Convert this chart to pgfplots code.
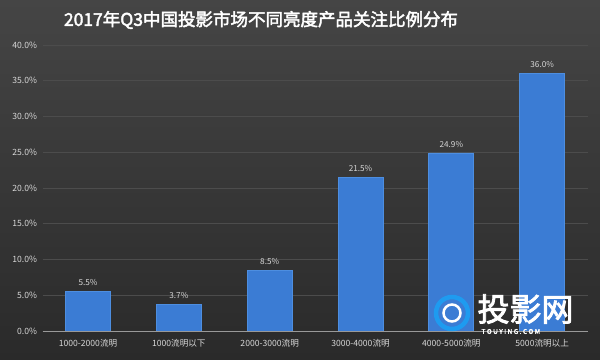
\documentclass[border=0pt]{standalone}
\usepackage{pgfplots}
\pgfplotsset{compat=1.18}
\usepackage{fontspec}
\setmainfont{Noto Sans CJK SC}
\newfontfamily\cjkbold{Noto Sans CJK SC}[FakeBold=2.5]
\definecolor{bgtop}{HTML}{454545}
\definecolor{bgbot}{HTML}{2A2A2A}
\definecolor{barblue}{HTML}{3B7CD4}
\definecolor{baredge}{HTML}{4D8EE0}
\definecolor{gridc}{HTML}{4C4C4C}
\definecolor{txtc}{HTML}{D8D8D8}
\definecolor{logoblue}{HTML}{1E9BF0}
\begin{document}
\begin{tikzpicture}[x=1pt,y=1pt]
\shade[top color=bgtop,bottom color=bgbot] (0,0) rectangle (600,359);
\node[text=white,font=\cjkbold\fontsize{17.5}{19}\selectfont] at (261,339) {2017年Q3中国投影市场不同亮度产品关注比例分布};
\begin{axis}[
  at={(42.6pt,28pt)}, anchor=south west,
  scale only axis, width=545pt, height=286pt,
  xmin=-0.5, xmax=5.5, ymin=0, ymax=40,
  xtick={0,1,2,3,4,5},
  xticklabels={1000-2000流明,1000流明以下,2000-3000流明,3000-4000流明,4000-5000流明,5000流明以上},
  ytick={0,5,10,15,20,25,30,35,40},
  yticklabel={\pgfmathprintnumber[fixed,fixed zerofill,precision=1]{\tick}\%},
  /pgf/number format/assume math mode=true,
  ymajorgrids, grid style={gridc,line width=0.8pt},
  axis line style={draw=none},
  axis x line*=bottom, axis y line*=left,
  major tick length=0pt,
  tick label style={text=txtc,font=\fontsize{8.6}{10}\selectfont},
  xticklabel style={yshift=-5pt},
  yticklabel style={xshift=-2pt},
  ybar, bar width=45pt,
  nodes near coords={\pgfmathprintnumber[fixed,fixed zerofill,precision=1]{\pgfplotspointmeta}\%},
  nodes near coords style={text=txtc,font=\fontsize{8.2}{10}\selectfont,yshift=2pt},
  clip=false,
]
\addplot[fill=barblue,draw=baredge,line width=0.8pt] coordinates {(0,5.5) (1,3.7) (2,8.5) (3,21.5) (4,24.9) (5,36.0)};
\draw[color=gray!80,line width=1pt] (axis cs:-0.5,0) -- (axis cs:5.5,0);
\end{axis}
% watermark
\draw[logoblue,line width=4.5pt] (452,46) circle (16);
\draw[white,line width=2.5pt] (452,46) circle (8.5);
\node[text=white,font=\cjkbold\fontsize{32}{34}\selectfont,anchor=west] at (474,50) {投影网};
\node[text=white,font=\cjkbold\fontsize{6.5}{7}\selectfont,anchor=west] at (478,27.5) {T O U Y I N G . C O M};
\end{tikzpicture}
\end{document}
